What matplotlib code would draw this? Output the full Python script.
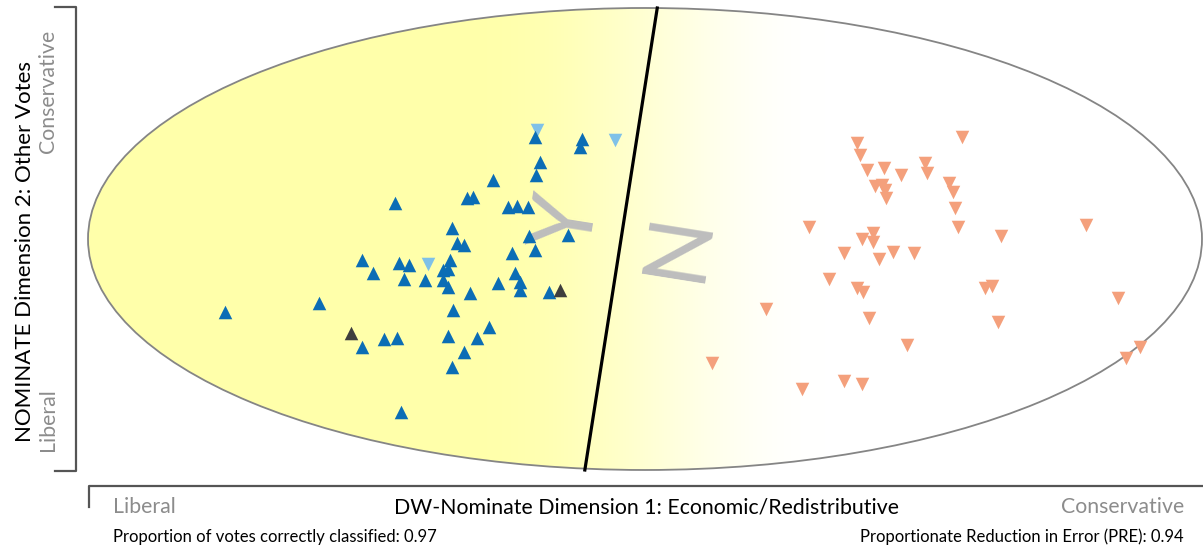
import numpy as np
import matplotlib.pyplot as plt
from matplotlib.patches import Ellipse
from matplotlib.lines import Line2D

plt.rcParams['font.family'] = ['Lato', 'DejaVu Sans']

# DW-Nominate coordinates (dim1, dim2) of each member
yea_dem_x = [-0.197, -0.113, -0.117, -0.189, -0.196, -0.273, -0.449, -0.320, -0.309,
             -0.246, -0.230, -0.210, -0.347, -0.208, -0.138, -0.338, -0.325, -0.239,
             -0.197, -0.350, -0.508, -0.488, -0.442, -0.424, -0.363, -0.354, -0.433,
             -0.395, -0.363, -0.354, -0.314, -0.264, -0.233, -0.224, -0.224, -0.172,
             -0.585, -0.754, -0.345, -0.508, -0.469, -0.445, -0.354, -0.280, -0.302,
             -0.325, -0.347, -0.438]
yea_dem_y = [0.442, 0.433, 0.398, 0.333, 0.277, 0.255, 0.156, 0.177, 0.182,
             0.139, 0.143, 0.139, 0.048, 0.013, 0.017, -0.017, -0.026, -0.061,
             -0.048, -0.091, -0.091, -0.147, -0.104, -0.113, -0.134, -0.130, -0.173,
             -0.177, -0.177, -0.208, -0.234, -0.190, -0.147, -0.186, -0.221, -0.229,
             -0.277, -0.316, -0.307, -0.468, -0.433, -0.429, -0.420, -0.381, -0.429,
             -0.489, -0.554, -0.749]

nay_dem_x = [-0.194, -0.054, -0.390]
nay_dem_y = [0.472, 0.429, -0.108]

yea_ind_x = [-0.153, -0.528]
yea_ind_y = [-0.221, -0.407]

nay_rep_x = [0.381, 0.386, 0.569, 0.399, 0.429, 0.460, 0.503, 0.506, 0.413, 0.425,
             0.431, 0.433, 0.546, 0.553, 0.557, 0.294, 0.562, 0.792, 0.639, 0.409,
             0.390, 0.409, 0.357, 0.445, 0.483, 0.420, 0.330, 0.381, 0.391, 0.610,
             0.623, 0.849, 0.217, 0.402, 0.634, 0.470, 0.889, 0.864, 0.120, 0.282,
             0.357, 0.390]
nay_rep_y = [0.416, 0.364, 0.442, 0.299, 0.307, 0.277, 0.329, 0.286, 0.229, 0.234,
             0.212, 0.177, 0.242, 0.203, 0.134, 0.052, 0.052, 0.061, 0.013, 0.026,
             0.000, -0.013, -0.061, -0.056, -0.061, -0.087, -0.173, -0.212, -0.229, -0.212,
             -0.203, -0.255, -0.303, -0.342, -0.359, -0.459, -0.468, -0.515, -0.537, -0.649,
             -0.615, -0.628]

# cutting line endpoints
cut_x = [0.022, -0.108]
cut_y = [1.0, -1.0]

pct_correct = 0.97
pre = 0.94

W, H = 1203, 548
fig = plt.figure(figsize=(W / 100, H / 100), dpi=100)
ax = fig.add_axes([0, 0, 1, 1])
ax.set_xlim(-1.158, 1.0018)
ax.set_ylim(-1.3377, 1.0346)
ax.axis('off')

# yellow -> white gradient clipped to the unit circle
ell = Ellipse((0, 0), 2, 2, facecolor='none', edgecolor='#858585', lw=1.3, zorder=3)
ax.add_patch(ell)
gx = np.linspace(-1, 1, 400)
t = np.clip((gx + 0.30) / 0.62, 0, 1)
t = t * t * (3 - 2 * t)
yel = np.array([1.0, 1.0, 0.67])
wht = np.array([1.0, 1.0, 1.0])
cols = yel[None, :] * (1 - t[:, None]) + wht[None, :] * t[:, None]
img = np.tile(cols[None, :, :], (2, 1, 1))
im = ax.imshow(img, extent=(-1, 1, -1, 1), aspect='auto', zorder=1,
               interpolation='bilinear')
im.set_clip_path(ell)

ax.plot(cut_x, cut_y, color='black', lw=2.3, zorder=4)

ax.text(-0.137, 0.07, 'Y', rotation=81, fontsize=64, color='#bdbdbd',
        ha='center', va='center', zorder=2, rotation_mode='anchor')
ax.text(0.060, -0.03, 'N', rotation=81, fontsize=64, color='#bdbdbd',
        ha='center', va='center', zorder=2, rotation_mode='anchor')

ax.scatter(nay_dem_x, nay_dem_y, marker='v', s=95, color='#7fc1e8', lw=0, zorder=5)
ax.scatter(yea_dem_x, yea_dem_y, marker='^', s=95, color='#0b6db5', lw=0, zorder=6)
ax.scatter(yea_ind_x, yea_ind_y, marker='^', s=95, color='#3e3e3e', lw=0, zorder=6)
ax.scatter(nay_rep_x, nay_rep_y, marker='v', s=95, color='#f4a07c', lw=0, zorder=5)


def fx(px):
    return px / W


def fy(py):
    return 1 - py / H


# axis brackets
bc = '#555555'
fig.add_artist(Line2D([fx(55), fx(76), fx(76), fx(55)],
                      [fy(7), fy(7), fy(471), fy(471)], color=bc, lw=1.6))
fig.add_artist(Line2D([fx(89), fx(89), fx(1203)],
                      [fy(507), fy(486), fy(486)], color=bc, lw=1.6))

fig.text(fx(25), fy(252), 'NOMINATE Dimension 2: Other Votes', rotation=90,
         fontsize=16, ha='center', va='center', color='black')
fig.text(fx(48), fy(30), 'Conservative', rotation=90, fontsize=15.3,
         ha='center', va='top', color='#8c8c8c')
fig.text(fx(48), fy(451), 'Liberal', rotation=90, fontsize=15.3,
         ha='center', va='bottom', color='#8c8c8c')

fig.text(fx(113), fy(507), 'Liberal', fontsize=15.3, ha='left', va='center',
         color='#8c8c8c')
fig.text(fx(647), fy(507), 'DW-Nominate Dimension 1: Economic/Redistributive',
         fontsize=15.3, ha='center', va='center', color='black')
fig.text(fx(1184), fy(507), 'Conservative', fontsize=15.3, ha='right',
         va='center', color='#8c8c8c')

fig.text(fx(113), fy(537), f'Proportion of votes correctly classified: {pct_correct:.2f}',
         fontsize=12, ha='left', va='center', color='black')
fig.text(fx(1184), fy(537), f'Proportionate Reduction in Error (PRE): {pre:.2f}',
         fontsize=12, ha='right', va='center', color='black')

fig.savefig('out.png', dpi=100)
